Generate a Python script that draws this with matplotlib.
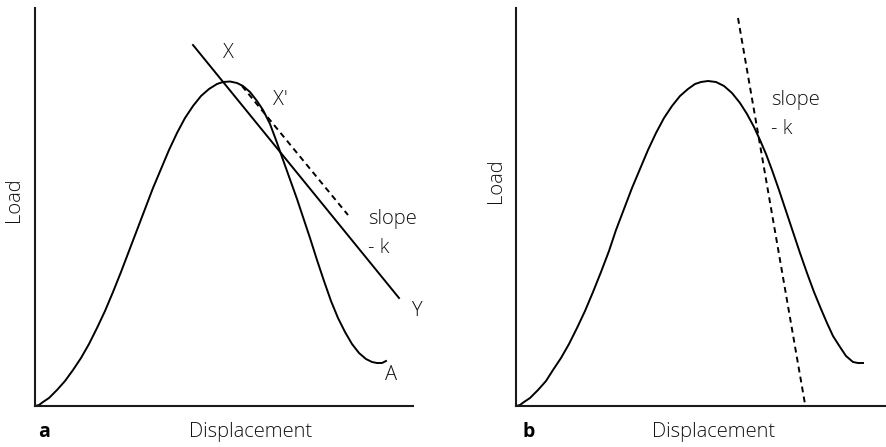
import numpy as np
import matplotlib.pyplot as plt

plt.rcParams['font.family'] = ['Open Sans', 'DejaVu Sans']

# load-displacement curve, panel a
disp_a = [0, 4, 8, 14, 22, 30, 38, 46, 54, 62, 70, 78, 86, 94, 102, 110, 118,
          126, 134, 142, 150, 158, 166, 174, 182, 188, 195, 202, 208, 215, 222,
          228, 235, 241, 247, 252, 257, 262, 268, 275, 282, 289, 296, 303, 310,
          317, 324, 331, 337, 342, 347, 351]
load_a = [0, 1, 4, 8, 16, 25, 36, 48, 62, 78, 95, 114, 134, 155, 176, 197, 218,
          237, 256, 273, 288, 300, 310, 317, 322, 324, 324.5, 323, 320, 314, 305,
          296, 282, 266, 249, 235, 221, 207, 189, 168, 146, 125, 105, 88, 74,
          62, 53, 47, 44, 43, 43, 45]
# secant X-Y and parallel tangent at X'
line_xy = ([158, 364], [361, 108])
tangent_a = ([207, 313], [320, 191])

# load-displacement curve, panel b
disp_b = [0, 4, 8, 14, 22, 30, 37, 45, 53, 61, 69, 77, 85, 93, 100, 108, 116,
          124, 132, 140, 148, 156, 164, 172, 179, 185, 192, 200, 208, 216, 224,
          231, 238, 244, 250, 256, 263, 270, 277, 284, 291, 298, 305, 311, 317,
          324, 330, 337, 342, 347]
load_b = [0, 1, 4, 8, 16, 25, 36, 48, 62, 78, 95, 114, 134, 155, 176, 197, 218,
          237, 256, 273, 288, 300, 310, 317, 322, 324, 325, 324, 320, 313, 303,
          292, 279, 266, 252, 236, 216, 195, 174, 153, 133, 114, 97, 83, 70,
          59, 50, 44, 43, 43]
tangent_b = ([222, 289], [388, 2])

W, H = 887, 447
fig = plt.figure(figsize=(W / 100, H / 100), dpi=100)

def make_axes(left_px, width_px):
    ax = fig.add_axes([left_px / W, 41 / H, width_px / W, 398 / H])
    ax.set_xlim(0, width_px)
    ax.set_ylim(0, 398)
    for s in ['top', 'right']:
        ax.spines[s].set_visible(False)
    for s in ['left', 'bottom']:
        ax.spines[s].set_linewidth(1.5)
        ax.spines[s].set_color('#1a1a1a')
    ax.set_xticks([])
    ax.set_yticks([])
    ax.patch.set_alpha(0)
    return ax

lw = 1.4
dash = (0, (3, 2.2))
txt = dict(fontsize=14.5, color='#111111', fontweight='light')

ax1 = make_axes(35, 378)
ax1.plot(disp_a, load_a, color='black', lw=lw, solid_joinstyle='round')
ax1.plot(*line_xy, color='black', lw=lw)
ax1.plot(*tangent_a, color='black', lw=lw, linestyle=dash)
ax1.text(193, 353, 'X', ha='center', va='center', **txt)
ax1.text(245, 306, "X'", ha='center', va='center', **txt)
ax1.text(333, 187, 'slope', ha='left', va='center', **txt)
ax1.text(333, 158, '- k', ha='left', va='center', **txt)
ax1.text(381, 95, 'Y', ha='center', va='center', clip_on=False, **txt)
ax1.text(356, 31, 'A', ha='center', va='center', **txt)

ax2 = make_axes(516, 371)
ax2.plot(disp_b, load_b, color='black', lw=lw, solid_joinstyle='round')
ax2.plot(*tangent_b, color='black', lw=lw, linestyle=dash)
ax2.text(255, 306, 'slope', ha='left', va='center', **txt)
ax2.text(255, 277, '- k', ha='left', va='center', **txt)

# axis titles and panel letters
for xc, yc in [(14, 200), (496, 181)]:
    fig.text(xc / W, 1 - yc / H, 'Load', rotation=90, ha='center', va='center', **txt)
for xc in [251, 714]:
    fig.text(xc / W, 1 - 432 / H, 'Displacement', ha='center', va='center', **txt)
fig.text(38 / W, 1 - 432 / H, 'a', ha='left', va='center', fontsize=14, fontweight='bold')
fig.text(522 / W, 1 - 432 / H, 'b', ha='left', va='center', fontsize=14, fontweight='bold')

fig.savefig('out.png', dpi=100)
